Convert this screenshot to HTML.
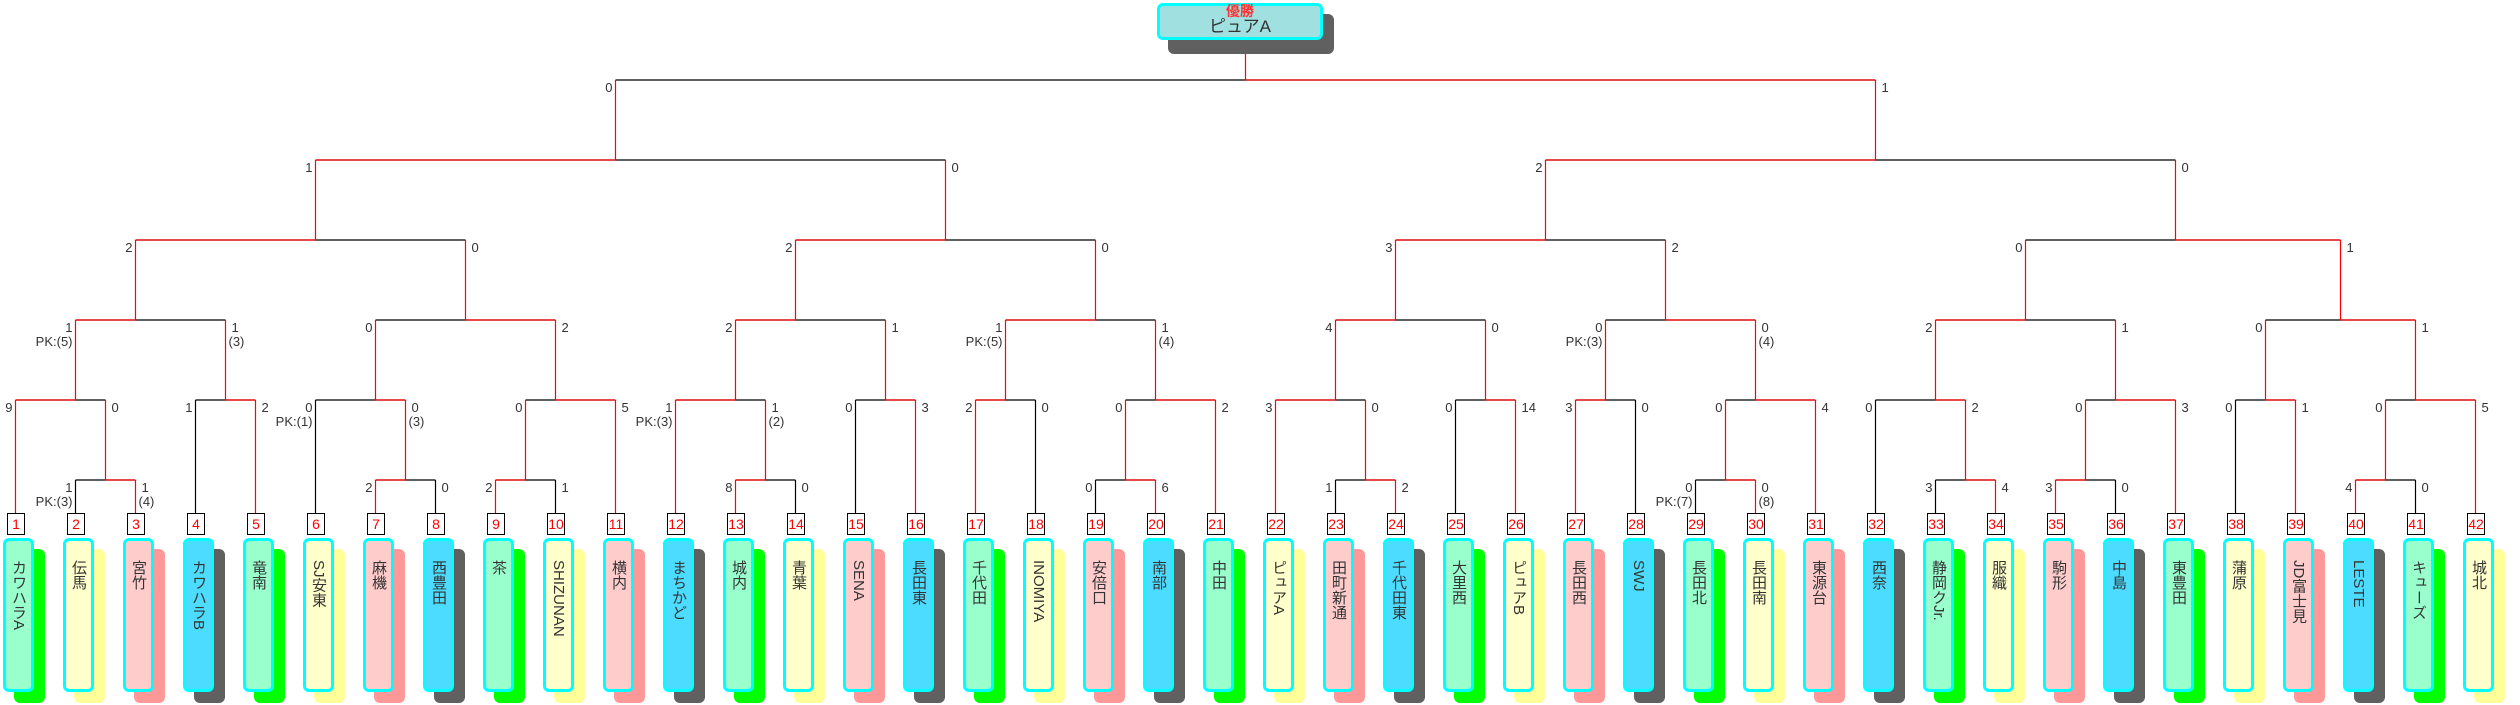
<!DOCTYPE html>
<html><head><meta charset="utf-8"><style>
html,body{margin:0;padding:0;background:#fff;}
body{width:2520px;height:705px;position:relative;overflow:hidden;font-family:"Liberation Sans","Noto Sans CJK JP",sans-serif;}
svg{position:absolute;left:0;top:0;}
svg text{font-family:"Liberation Sans",sans-serif;font-size:13px;fill:#333;}
#teams>div{position:absolute;top:513px;width:60px;height:192px;}
#teams>div b{position:absolute;left:7px;top:0;width:16px;height:20px;border:1px solid #000;background:#fff;color:#f00;font-weight:normal;font-size:14px;line-height:20px;text-align:center;}
#teams>div i{position:absolute;left:14px;top:36px;width:31px;height:154px;border-radius:6px;}
#teams>div span{position:absolute;left:3px;top:25px;width:25px;height:148px;border:3px solid #00ffff;border-radius:6px;writing-mode:vertical-rl;font-size:15px;line-height:25px;padding-top:0;color:#333;box-sizing:content-box;}
#teams>div span em{font-style:normal;display:block;padding-top:19px;}
#teams>div:nth-child(4n+1) span{background:#99ffcc}
#teams>div:nth-child(4n+1) i{background:#00ff00}
#teams>div:nth-child(4n+2) span{background:#ffffcc}
#teams>div:nth-child(4n+2) i{background:#ffff99}
#teams>div:nth-child(4n+3) span{background:#ffcccc}
#teams>div:nth-child(4n+3) i{background:#ff9999}
#teams>div:nth-child(4n) span{background:#4cdcff}
#teams>div:nth-child(4n) i{background:#606060}
#champS{position:absolute;left:1168px;top:14px;width:166px;height:40px;background:#606060;border-radius:6px;}
#champ{position:absolute;left:1157px;top:3px;width:160px;height:31px;background:#a0e0e0;border:3px solid #00ffff;border-radius:6px;text-align:center;}
#champ .w{position:absolute;left:0;right:0;top:-3px;color:#ff3333;font-size:14px;font-weight:bold;line-height:16px;}
#champ .n{position:absolute;left:0;right:0;top:11px;color:#333;font-size:17px;line-height:20px;}
</style></head><body>
<svg width="2520" height="705" viewBox="0 0 2520 705">
<g stroke="#000" stroke-width="1.2" fill="none">
<path d="M75.5 480H135.5M15.5 400H105.5M195.5 400H255.5M75.5 320H225.5M375.5 480H435.5M315.5 400H405.5M495.5 480H555.5M525.5 400H615.5M375.5 320H555.5M135.5 240H465.5M735.5 480H795.5M675.5 400H765.5M855.5 400H915.5M735.5 320H885.5M975.5 400H1035.5M1095.5 480H1155.5M1125.5 400H1215.5M1005.5 320H1155.5M795.5 240H1095.5M315.5 160H945.5M1335.5 480H1395.5M1275.5 400H1365.5M1455.5 400H1515.5M1335.5 320H1485.5M1575.5 400H1635.5M1695.5 480H1755.5M1725.5 400H1815.5M1605.5 320H1755.5M1395.5 240H1665.5M1935.5 480H1995.5M1875.5 400H1965.5M2055.5 480H2115.5M2085.5 400H2175.5M1935.5 320H2115.5M2235.5 400H2295.5M2355.5 480H2415.5M2385.5 400H2475.5M2265.5 320H2415.5M2025.5 240H2340.5M1545.5 160H2175.5M615.5 80H1875.5"/>
<path d="M75.5 480V513M195.5 400V513M315.5 400V513M435.5 480V513M555.5 480V513M795.5 480V513M855.5 400V513M1035.5 400V513M1095.5 480V513M1335.5 480V513M1455.5 400V513M1635.5 400V513M1695.5 480V513M1875.5 400V513M1935.5 480V513M2115.5 480V513M2235.5 400V513M2415.5 480V513"/>
</g>
<g stroke="#f00" stroke-width="1.2" fill="none">
<path d="M105.5 480H135.5M15.5 400H75.5M225.5 400H255.5M75.5 320H135.5M375.5 480H405.5M375.5 400H405.5M495.5 480H525.5M555.5 400H615.5M465.5 320H555.5M135.5 240H315.5M735.5 480H765.5M675.5 400H735.5M885.5 400H915.5M735.5 320H795.5M975.5 400H1005.5M1125.5 480H1155.5M1155.5 400H1215.5M1005.5 320H1095.5M795.5 240H945.5M315.5 160H615.5M1365.5 480H1395.5M1275.5 400H1335.5M1485.5 400H1515.5M1335.5 320H1395.5M1575.5 400H1605.5M1725.5 480H1755.5M1755.5 400H1815.5M1665.5 320H1755.5M1395.5 240H1545.5M1965.5 480H1995.5M1935.5 400H1965.5M2055.5 480H2085.5M2115.5 400H2175.5M1935.5 320H2025.5M2265.5 400H2295.5M2355.5 480H2385.5M2415.5 400H2475.5M2340.5 320H2415.5M2175.5 240H2340.5M1545.5 160H1875.5M1245.5 80H1875.5M1245.5 54V80"/>
<path d="M105.5 400V480M75.5 320V400M225.5 320V400M135.5 240V320M405.5 400V480M375.5 320V400M525.5 400V480M555.5 320V400M465.5 240V320M315.5 160V240M765.5 400V480M735.5 320V400M885.5 320V400M795.5 240V320M1005.5 320V400M1125.5 400V480M1155.5 320V400M1095.5 240V320M945.5 160V240M615.5 80V160M1365.5 400V480M1335.5 320V400M1485.5 320V400M1395.5 240V320M1605.5 320V400M1725.5 400V480M1755.5 320V400M1665.5 240V320M1545.5 160V240M1965.5 400V480M1935.5 320V400M2085.5 400V480M2115.5 320V400M2025.5 240V320M2265.5 320V400M2415.5 320V400M2385.5 400V480M2340.5 240V320M2175.5 160V240M1875.5 80V160"/>
<path d="M15.5 400V513M135.5 480V513M255.5 400V513M375.5 480V513M495.5 480V513M615.5 400V513M675.5 400V513M735.5 480V513M915.5 400V513M975.5 400V513M1155.5 480V513M1215.5 400V513M1275.5 400V513M1395.5 480V513M1515.5 400V513M1575.5 400V513M1755.5 480V513M1815.5 400V513M1995.5 480V513M2055.5 480V513M2175.5 400V513M2295.5 400V513M2355.5 480V513M2475.5 400V513"/>
</g>
<g text-anchor="end">
<text x="72.5" y="492">1</text><text x="72.5" y="506">PK:(3)</text>
<text x="12.5" y="412">9</text>
<text x="192.5" y="412">1</text>
<text x="72.5" y="332">1</text><text x="72.5" y="346">PK:(5)</text>
<text x="372.5" y="492">2</text>
<text x="312.5" y="412">0</text><text x="312.5" y="426">PK:(1)</text>
<text x="492.5" y="492">2</text>
<text x="522.5" y="412">0</text>
<text x="372.5" y="332">0</text>
<text x="132.5" y="252">2</text>
<text x="732.5" y="492">8</text>
<text x="672.5" y="412">1</text><text x="672.5" y="426">PK:(3)</text>
<text x="852.5" y="412">0</text>
<text x="732.5" y="332">2</text>
<text x="972.5" y="412">2</text>
<text x="1092.5" y="492">0</text>
<text x="1122.5" y="412">0</text>
<text x="1002.5" y="332">1</text><text x="1002.5" y="346">PK:(5)</text>
<text x="792.5" y="252">2</text>
<text x="312.5" y="172">1</text>
<text x="1332.5" y="492">1</text>
<text x="1272.5" y="412">3</text>
<text x="1452.5" y="412">0</text>
<text x="1332.5" y="332">4</text>
<text x="1572.5" y="412">3</text>
<text x="1692.5" y="492">0</text><text x="1692.5" y="506">PK:(7)</text>
<text x="1722.5" y="412">0</text>
<text x="1602.5" y="332">0</text><text x="1602.5" y="346">PK:(3)</text>
<text x="1392.5" y="252">3</text>
<text x="1932.5" y="492">3</text>
<text x="1872.5" y="412">0</text>
<text x="2052.5" y="492">3</text>
<text x="2082.5" y="412">0</text>
<text x="1932.5" y="332">2</text>
<text x="2232.5" y="412">0</text>
<text x="2352.5" y="492">4</text>
<text x="2382.5" y="412">0</text>
<text x="2262.5" y="332">0</text>
<text x="2022.5" y="252">0</text>
<text x="1542.5" y="172">2</text>
<text x="612.5" y="92">0</text>
</g>
<g>
<text x="141.5" y="492">1</text><text x="138.5" y="506">(4)</text>
<text x="111.5" y="412">0</text>
<text x="261.5" y="412">2</text>
<text x="231.5" y="332">1</text><text x="228.5" y="346">(3)</text>
<text x="441.5" y="492">0</text>
<text x="411.5" y="412">0</text><text x="408.5" y="426">(3)</text>
<text x="561.5" y="492">1</text>
<text x="621.5" y="412">5</text>
<text x="561.5" y="332">2</text>
<text x="471.5" y="252">0</text>
<text x="801.5" y="492">0</text>
<text x="771.5" y="412">1</text><text x="768.5" y="426">(2)</text>
<text x="921.5" y="412">3</text>
<text x="891.5" y="332">1</text>
<text x="1041.5" y="412">0</text>
<text x="1161.5" y="492">6</text>
<text x="1221.5" y="412">2</text>
<text x="1161.5" y="332">1</text><text x="1158.5" y="346">(4)</text>
<text x="1101.5" y="252">0</text>
<text x="951.5" y="172">0</text>
<text x="1401.5" y="492">2</text>
<text x="1371.5" y="412">0</text>
<text x="1521.5" y="412">14</text>
<text x="1491.5" y="332">0</text>
<text x="1641.5" y="412">0</text>
<text x="1761.5" y="492">0</text><text x="1758.5" y="506">(8)</text>
<text x="1821.5" y="412">4</text>
<text x="1761.5" y="332">0</text><text x="1758.5" y="346">(4)</text>
<text x="1671.5" y="252">2</text>
<text x="2001.5" y="492">4</text>
<text x="1971.5" y="412">2</text>
<text x="2121.5" y="492">0</text>
<text x="2181.5" y="412">3</text>
<text x="2121.5" y="332">1</text>
<text x="2301.5" y="412">1</text>
<text x="2421.5" y="492">0</text>
<text x="2481.5" y="412">5</text>
<text x="2421.5" y="332">1</text>
<text x="2346.5" y="252">1</text>
<text x="2181.5" y="172">0</text>
<text x="1881.5" y="92">1</text>
</g>
</svg>
<div id="champS"></div>
<div id="champ"><div class="w">優勝</div><div class="n">ピュアA</div></div>
<div id="teams">
<div style="left:0px"><i></i><span><em>カワハラA</em></span><b>1</b></div>
<div style="left:60px"><i></i><span><em>伝馬</em></span><b>2</b></div>
<div style="left:120px"><i></i><span><em>宮竹</em></span><b>3</b></div>
<div style="left:180px"><i></i><span><em>カワハラB</em></span><b>4</b></div>
<div style="left:240px"><i></i><span><em>竜南</em></span><b>5</b></div>
<div style="left:300px"><i></i><span><em>SJ安東</em></span><b>6</b></div>
<div style="left:360px"><i></i><span><em>麻機</em></span><b>7</b></div>
<div style="left:420px"><i></i><span><em>西豊田</em></span><b>8</b></div>
<div style="left:480px"><i></i><span><em>茶</em></span><b>9</b></div>
<div style="left:540px"><i></i><span><em>SHIZUNAN</em></span><b>10</b></div>
<div style="left:600px"><i></i><span><em>横内</em></span><b>11</b></div>
<div style="left:660px"><i></i><span><em>まちかど</em></span><b>12</b></div>
<div style="left:720px"><i></i><span><em>城内</em></span><b>13</b></div>
<div style="left:780px"><i></i><span><em>青葉</em></span><b>14</b></div>
<div style="left:840px"><i></i><span><em>SENA</em></span><b>15</b></div>
<div style="left:900px"><i></i><span><em>長田東</em></span><b>16</b></div>
<div style="left:960px"><i></i><span><em>千代田</em></span><b>17</b></div>
<div style="left:1020px"><i></i><span><em>INOMIYA</em></span><b>18</b></div>
<div style="left:1080px"><i></i><span><em>安倍口</em></span><b>19</b></div>
<div style="left:1140px"><i></i><span><em>南部</em></span><b>20</b></div>
<div style="left:1200px"><i></i><span><em>中田</em></span><b>21</b></div>
<div style="left:1260px"><i></i><span><em>ピュアA</em></span><b>22</b></div>
<div style="left:1320px"><i></i><span><em>田町新通</em></span><b>23</b></div>
<div style="left:1380px"><i></i><span><em>千代田東</em></span><b>24</b></div>
<div style="left:1440px"><i></i><span><em>大里西</em></span><b>25</b></div>
<div style="left:1500px"><i></i><span><em>ピュアB</em></span><b>26</b></div>
<div style="left:1560px"><i></i><span><em>長田西</em></span><b>27</b></div>
<div style="left:1620px"><i></i><span><em>SWJ</em></span><b>28</b></div>
<div style="left:1680px"><i></i><span><em>長田北</em></span><b>29</b></div>
<div style="left:1740px"><i></i><span><em>長田南</em></span><b>30</b></div>
<div style="left:1800px"><i></i><span><em>東源台</em></span><b>31</b></div>
<div style="left:1860px"><i></i><span><em>西奈</em></span><b>32</b></div>
<div style="left:1920px"><i></i><span><em>静岡クJr.</em></span><b>33</b></div>
<div style="left:1980px"><i></i><span><em>服織</em></span><b>34</b></div>
<div style="left:2040px"><i></i><span><em>駒形</em></span><b>35</b></div>
<div style="left:2100px"><i></i><span><em>中島</em></span><b>36</b></div>
<div style="left:2160px"><i></i><span><em>東豊田</em></span><b>37</b></div>
<div style="left:2220px"><i></i><span><em>蒲原</em></span><b>38</b></div>
<div style="left:2280px"><i></i><span><em>JD富士見</em></span><b>39</b></div>
<div style="left:2340px"><i></i><span><em>LESTE</em></span><b>40</b></div>
<div style="left:2400px"><i></i><span><em>キューズ</em></span><b>41</b></div>
<div style="left:2460px"><i></i><span><em>城北</em></span><b>42</b></div>
</div>
</body></html>
